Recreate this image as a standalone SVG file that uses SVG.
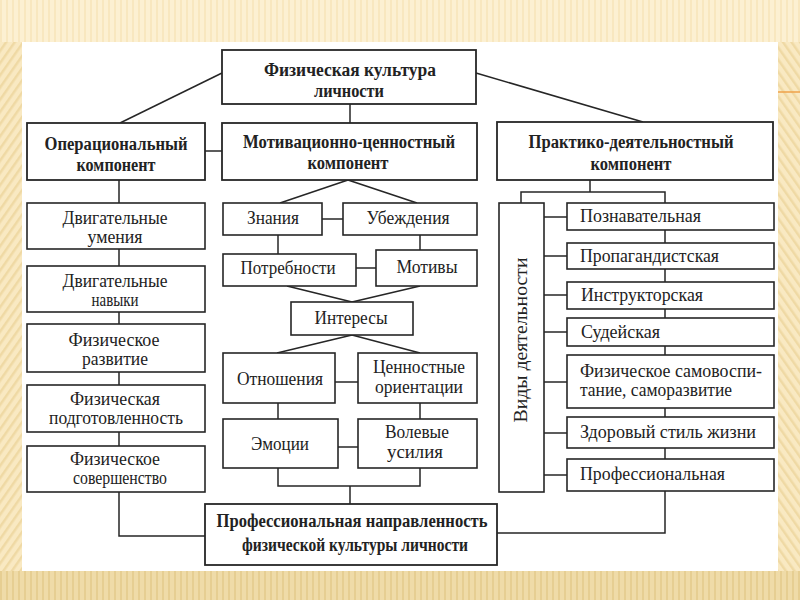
<svg xmlns="http://www.w3.org/2000/svg" width="800" height="600" viewBox="0 0 800 600">
  <defs>
    <pattern id="vstripe" width="6" height="10" patternUnits="userSpaceOnUse">
      <rect width="6" height="10" fill="#FCF0D2"/>
      <rect width="2" height="10" fill="#F8E7BF"/>
    </pattern>
    <pattern id="vstripeDark" width="6" height="10" patternUnits="userSpaceOnUse">
      <rect width="6" height="10" fill="#EFDBA8"/>
      <rect width="2" height="10" fill="#E6CE92"/>
    </pattern>
    <pattern id="diagL" width="7" height="7" patternUnits="userSpaceOnUse" patternTransform="rotate(35)">
      <rect width="7" height="7" fill="#F9E9C2"/>
      <rect width="2.5" height="7" fill="#EFD9A4"/>
    </pattern>
    <pattern id="diagR" width="7" height="7" patternUnits="userSpaceOnUse" patternTransform="rotate(-35)">
      <rect width="7" height="7" fill="#F9E9C2"/>
      <rect width="2.5" height="7" fill="#EFD9A4"/>
    </pattern>
    <style>
      .box { fill: #ffffff; stroke: #262626; stroke-width: 1.6; }
      .hbox { fill: #ffffff; stroke: #262626; stroke-width: 1.8; }
      .con { fill: none; stroke: #262626; stroke-width: 1.5; }
      .t { font-family: "Liberation Serif", "DejaVu Serif", serif; font-size: 18px; fill: #222222; text-anchor: middle; }
      .tl { font-family: "Liberation Serif", "DejaVu Serif", serif; font-size: 18px; fill: #222222; text-anchor: start; }
      .b { font-family: "Liberation Serif", "DejaVu Serif", serif; font-size: 18px; font-weight: bold; fill: #222222; text-anchor: middle; }
    </style>
  </defs>

  <!-- slide background -->
  <rect x="0" y="0" width="800" height="600" fill="url(#vstripe)"/>
  <rect x="0" y="42" width="22" height="530" fill="url(#diagL)"/>
  <rect x="778" y="42" width="22" height="530" fill="url(#diagR)"/>
  <rect x="0" y="571" width="800" height="29" fill="url(#vstripeDark)"/>
  <line x1="778" y1="92" x2="800" y2="92" stroke="#EFA24A" stroke-width="1.5"/>
  <rect x="22" y="42" width="756" height="529" fill="#ffffff"/>

  <g id="connectors" class="con">
    <line x1="222" y1="73" x2="120" y2="123"/>
    <line x1="476" y1="73" x2="643" y2="122"/>
    <line x1="350" y1="104" x2="350" y2="123"/>
    <line x1="205" y1="151" x2="222" y2="151"/>
    <polyline points="119,180 119,536 205,536"/>
    <line x1="348" y1="180" x2="280" y2="203"/>
    <line x1="348" y1="180" x2="417" y2="203"/>
    <line x1="322" y1="219" x2="343" y2="219"/>
    <line x1="278" y1="235" x2="278" y2="254"/>
    <line x1="420" y1="235" x2="420" y2="250"/>
    <line x1="356" y1="268" x2="376" y2="268"/>
    <line x1="287" y1="286" x2="352" y2="302"/>
    <line x1="420" y1="286" x2="352" y2="302"/>
    <line x1="352" y1="335" x2="277" y2="353"/>
    <line x1="352" y1="335" x2="420" y2="353"/>
    <line x1="335" y1="382" x2="358" y2="382"/>
    <line x1="278" y1="403" x2="278" y2="419"/>
    <line x1="420" y1="403" x2="420" y2="419"/>
    <line x1="338" y1="447" x2="358" y2="447"/>
    <polyline points="278,468 278,486 420,486 420,468"/>
    <line x1="350" y1="486" x2="350" y2="504"/>
    <line x1="590" y1="180" x2="590" y2="192"/>
    <polyline points="521,203 521,192 665,192 665,203"/>
    <polyline points="665,203 665,533 497,533"/>
    <line x1="544" y1="217" x2="567" y2="217"/>
    <line x1="544" y1="256" x2="567" y2="256"/>
    <line x1="544" y1="295" x2="567" y2="295"/>
    <line x1="544" y1="332" x2="567" y2="332"/>
    <line x1="544" y1="382" x2="567" y2="382"/>
    <line x1="544" y1="433" x2="567" y2="433"/>
    <line x1="544" y1="475" x2="567" y2="475"/>
  </g>

  <g id="n-top">
    <rect class="hbox" x="222" y="50" width="254" height="54"/>
    <text class="b" x="350" y="76" textLength="172" lengthAdjust="spacingAndGlyphs">Физическая культура</text>
    <text class="b" x="349" y="97" textLength="70" lengthAdjust="spacingAndGlyphs">личности</text>
  </g>
  <g id="n-oper">
    <rect class="hbox" x="27" y="123" width="178" height="57"/>
    <text class="b" x="116" y="150" textLength="143" lengthAdjust="spacingAndGlyphs">Операциональный</text>
    <text class="b" x="116" y="171" textLength="79" lengthAdjust="spacingAndGlyphs">компонент</text>
  </g>
  <g id="n-motiv">
    <rect class="hbox" x="222" y="123" width="255" height="57"/>
    <text class="b" x="349" y="148" textLength="212" lengthAdjust="spacingAndGlyphs">Мотивационно-ценностный</text>
    <text class="b" x="348" y="169" textLength="81" lengthAdjust="spacingAndGlyphs">компонент</text>
  </g>
  <g id="n-pract">
    <rect class="hbox" x="497" y="122" width="276" height="58"/>
    <text class="b" x="631" y="148" textLength="205" lengthAdjust="spacingAndGlyphs">Практико-деятельностный</text>
    <text class="b" x="631" y="170" textLength="81" lengthAdjust="spacingAndGlyphs">компонент</text>
  </g>

  <!-- left column -->
  <g id="n-umeniya">
    <rect class="box" x="27" y="203" width="178" height="46"/>
    <text class="t" x="115" y="224" textLength="105" lengthAdjust="spacingAndGlyphs">Двигательные</text>
    <text class="t" x="115" y="243" textLength="55" lengthAdjust="spacingAndGlyphs">умения</text>
  </g>
  <g id="n-navyki">
    <rect class="box" x="27" y="266" width="178" height="46"/>
    <text class="t" x="115" y="287" textLength="105" lengthAdjust="spacingAndGlyphs">Двигательные</text>
    <text class="t" x="115" y="306" textLength="47" lengthAdjust="spacingAndGlyphs">навыки</text>
  </g>
  <g id="n-razvitie">
    <rect class="box" x="27" y="324" width="178" height="48"/>
    <text class="t" x="114" y="346" textLength="91" lengthAdjust="spacingAndGlyphs">Физическое</text>
    <text class="t" x="115" y="365" textLength="66" lengthAdjust="spacingAndGlyphs">развитие</text>
  </g>
  <g id="n-podgot">
    <rect class="box" x="27" y="385" width="178" height="47"/>
    <text class="t" x="115" y="405" textLength="90" lengthAdjust="spacingAndGlyphs">Физическая</text>
    <text class="t" x="116" y="424" textLength="134" lengthAdjust="spacingAndGlyphs">подготовленность</text>
  </g>
  <g id="n-soversh">
    <rect class="box" x="27" y="446" width="178" height="46"/>
    <text class="t" x="115" y="465" textLength="90" lengthAdjust="spacingAndGlyphs">Физическое</text>
    <text class="t" x="120" y="484" textLength="94" lengthAdjust="spacingAndGlyphs">совершенство</text>
  </g>

  <!-- middle column -->
  <g id="n-znaniya">
    <rect class="box" x="223" y="203" width="99" height="32"/>
    <text class="t" x="273" y="224" textLength="52" lengthAdjust="spacingAndGlyphs">Знания</text>
  </g>
  <g id="n-ubezhd">
    <rect class="box" x="343" y="203" width="134" height="32"/>
    <text class="t" x="408" y="224" textLength="83" lengthAdjust="spacingAndGlyphs">Убеждения</text>
  </g>
  <g id="n-potreb">
    <rect class="box" x="223" y="254" width="133" height="32"/>
    <text class="t" x="288" y="274" textLength="95" lengthAdjust="spacingAndGlyphs">Потребности</text>
  </g>
  <g id="n-motivy">
    <rect class="box" x="376" y="250" width="101" height="36"/>
    <text class="t" x="427" y="273" textLength="61" lengthAdjust="spacingAndGlyphs">Мотивы</text>
  </g>
  <g id="n-interesy">
    <rect class="box" x="291" y="302" width="122" height="33"/>
    <text class="t" x="351" y="324" textLength="73" lengthAdjust="spacingAndGlyphs">Интересы</text>
  </g>
  <g id="n-otnosh">
    <rect class="box" x="223" y="353" width="112" height="50"/>
    <text class="t" x="280" y="385" textLength="86" lengthAdjust="spacingAndGlyphs">Отношения</text>
  </g>
  <g id="n-cennost">
    <rect class="box" x="358" y="353" width="119" height="50"/>
    <text class="t" x="419" y="373" textLength="92" lengthAdjust="spacingAndGlyphs">Ценностные</text>
    <text class="t" x="419" y="393" textLength="88" lengthAdjust="spacingAndGlyphs">ориентации</text>
  </g>
  <g id="n-emocii">
    <rect class="box" x="223" y="419" width="115" height="49"/>
    <text class="t" x="280" y="450" textLength="58" lengthAdjust="spacingAndGlyphs">Эмоции</text>
  </g>
  <g id="n-volevye">
    <rect class="box" x="358" y="419" width="119" height="49"/>
    <text class="t" x="417" y="438" textLength="64" lengthAdjust="spacingAndGlyphs">Волевые</text>
    <text class="t" x="415" y="458" textLength="56" lengthAdjust="spacingAndGlyphs">усилия</text>
  </g>

  <!-- right column -->
  <g id="n-vidy">
    <rect class="box" x="499" y="203" width="45" height="289"/>
    <text class="t" transform="translate(527,340) rotate(-90)" x="0" y="0" textLength="165" lengthAdjust="spacingAndGlyphs">Виды деятельности</text>
  </g>
  <g id="n-poznav">
    <rect class="box" x="567" y="203" width="207" height="27"/>
    <text class="tl" x="580" y="222" textLength="121" lengthAdjust="spacingAndGlyphs">Познавательная</text>
  </g>
  <g id="n-propag">
    <rect class="box" x="567" y="243" width="207" height="26"/>
    <text class="tl" x="580" y="262" textLength="139" lengthAdjust="spacingAndGlyphs">Пропагандистская</text>
  </g>
  <g id="n-instr">
    <rect class="box" x="567" y="282" width="207" height="27"/>
    <text class="tl" x="581" y="301" textLength="122" lengthAdjust="spacingAndGlyphs">Инструкторская</text>
  </g>
  <g id="n-sudei">
    <rect class="box" x="567" y="318" width="207" height="28"/>
    <text class="tl" x="581" y="338" textLength="79" lengthAdjust="spacingAndGlyphs">Судейская</text>
  </g>
  <g id="n-samovosp">
    <rect class="box" x="567" y="355" width="207" height="53"/>
    <text class="tl" x="580" y="377" textLength="182" lengthAdjust="spacingAndGlyphs">Физическое самовоспи-</text>
    <text class="tl" x="580" y="396" textLength="152" lengthAdjust="spacingAndGlyphs">тание, саморазвитие</text>
  </g>
  <g id="n-zdorov">
    <rect class="box" x="567" y="417" width="207" height="31"/>
    <text class="tl" x="580" y="438" textLength="176" lengthAdjust="spacingAndGlyphs">Здоровый стиль жизни</text>
  </g>
  <g id="n-prof">
    <rect class="box" x="567" y="459" width="207" height="32"/>
    <text class="tl" x="580" y="480" textLength="145" lengthAdjust="spacingAndGlyphs">Профессиональная</text>
  </g>

  <!-- bottom -->
  <g id="n-bottom">
    <rect class="hbox" x="205" y="504" width="292" height="61"/>
    <text class="b" x="352" y="527" textLength="271" lengthAdjust="spacingAndGlyphs">Профессиональная направленность</text>
    <text class="b" x="355" y="551" textLength="226" lengthAdjust="spacingAndGlyphs">физической культуры личности</text>
  </g>
</svg>
